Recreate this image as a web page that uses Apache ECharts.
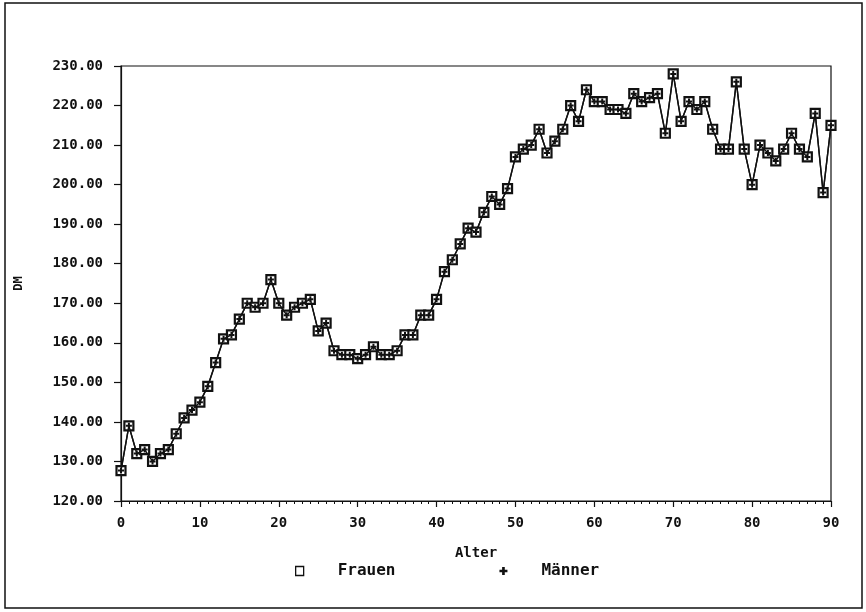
<!DOCTYPE html>
<html>
<head>
<meta charset="utf-8">
<script src="https://cdn.jsdelivr.net/npm/echarts@6/dist/echarts.min.js"></script>
<style>html,body{margin:0;padding:0;background:#fff}#c{width:866px;height:612px}</style>
</head>
<body>
<div id="c"></div>
<script>
const ages = [0,1,2,3,4,5,6,7,8,9,10,11,12,13,14,15,16,17,18,19,20,21,22,23,24,25,26,27,28,29,30,31,32,33,34,35,36,37,38,39,40,41,42,43,44,45,46,47,48,49,50,51,52,53,54,55,56,57,58,59,60,61,62,63,64,65,66,67,68,69,70,71,72,73,74,75,76,77,78,79,80,81,82,83,84,85,86,87,88,89,90];
const frauen = [127.7,139,132,133,130,132,133,137,141,143,145,149,155,161,162,166,170,169,170,176,170,167,169,170,171,163,165,158,157,157,156,157,159,157,157,158,162,162,167,167,171,178,181,185,189,188,193,197,195,199,207,209,210,214,208,211,214,220,216,224,221,221,219,219,218,223,221,222,223,213,228,216,221,219,221,214,209,209,226,209,200,210,208,206,209,213,209,207,218,198,215];
const maenner = [127.7,139,132,133,130,132,133,137,141,143,145,149,155,161,162,166,170,169,170,176,170,167,169,170,171,163,165,158,157,157,156,157,159,157,157,158,162,162,167,167,171,178,181,185,189,188,193,197,195,199,207,209,210,214,208,211,214,220,216,224,221,221,219,219,218,223,221,222,223,213,228,216,221,219,221,214,209,209,226,209,200,210,208,206,209,213,209,207,218,198,215];
const seriesNames = ['Frauen','Männer'];
const xTitle = 'Alter';
const yTitle = 'DM';

const FONT = "'DejaVu Sans Mono', monospace";
const plusPath = 'path://M3,0 H6 V3 H9 V6 H6 V9 H3 V6 H0 V3 H3 Z';

const chart = echarts.init(document.getElementById('c'), null, {renderer:'canvas'});
chart.setOption({
  animation: false,
  backgroundColor: '#fff',
  graphic: [{
    type: 'rect', shape: {x: 5, y: 3, width: 857, height: 605},
    style: {fill: 'none', stroke: '#111', lineWidth: 1.5}, silent: true
  }],
  grid: {left: 121, right: 35, top: 66, bottom: 111, show: true, borderColor: '#111', borderWidth: 1.2, backgroundColor: 'transparent'},
  legend: {
    top: 558, left: 290, itemGap: 104, itemWidth: 8, itemHeight: 9,
    textStyle: {fontFamily: FONT, fontWeight: 'bold', fontSize: 16, color: '#111', padding: [0,0,0,29]},
    data: [
      {name: seriesNames[0], icon: 'rect', itemStyle: {color: '#fff', borderColor: '#111', borderWidth: 1.3}},
      {name: seriesNames[1], icon: plusPath, itemStyle: {color: '#111', borderWidth: 0}}
    ]
  },
  xAxis: {
    type: 'value', min: 0, max: 90, interval: 10,
    name: xTitle, nameLocation: 'middle', nameGap: 45,
    nameTextStyle: {fontFamily: FONT, fontWeight: 'bold', fontSize: 14, color: '#111'},
    axisLine: {show: true, lineStyle: {color: '#111', width: 1.2}},
    axisTick: {show: true, length: 6, lineStyle: {color: '#111', width: 1.2}},
    minorTick: {show: true, splitNumber: 10, length: 3, lineStyle: {color: '#111', width: 1}},
    axisLabel: {margin: 15, fontFamily: FONT, fontWeight: 'bold', fontSize: 14, color: '#111'},
    splitLine: {show: false}
  },
  yAxis: {
    type: 'value', min: 120, max: 230, interval: 10,
    name: yTitle, nameLocation: 'middle', nameGap: 96, nameRotate: 90,
    nameTextStyle: {fontFamily: FONT, fontWeight: 'bold', fontSize: 12, color: '#111'},
    axisLine: {show: true, lineStyle: {color: '#111', width: 1.2}},
    axisTick: {show: true, length: 7, lineStyle: {color: '#111', width: 1.2}},
    axisLabel: {margin: 18, fontFamily: FONT, fontWeight: 'bold', fontSize: 14, color: '#111',
      formatter: v => v.toFixed(2)},
    splitLine: {show: false}
  },
  series: [
    {
      name: seriesNames[0], type: 'line',
      data: ages.map((a, i) => [a, frauen[i]]),
      symbol: 'rect', symbolSize: 9, showAllSymbol: true,
      lineStyle: {color: '#111', width: 1.4},
      itemStyle: {color: '#fff', borderColor: '#111', borderWidth: 2.2},
      z: 2
    },
    {
      name: seriesNames[1], type: 'line',
      data: ages.map((a, i) => [a, maenner[i]]),
      symbol: plusPath, symbolSize: 6, showAllSymbol: true,
      lineStyle: {color: '#111', width: 1.4},
      itemStyle: {color: '#111', borderWidth: 0},
      z: 3
    }
  ]
});
</script>
</body>
</html>
